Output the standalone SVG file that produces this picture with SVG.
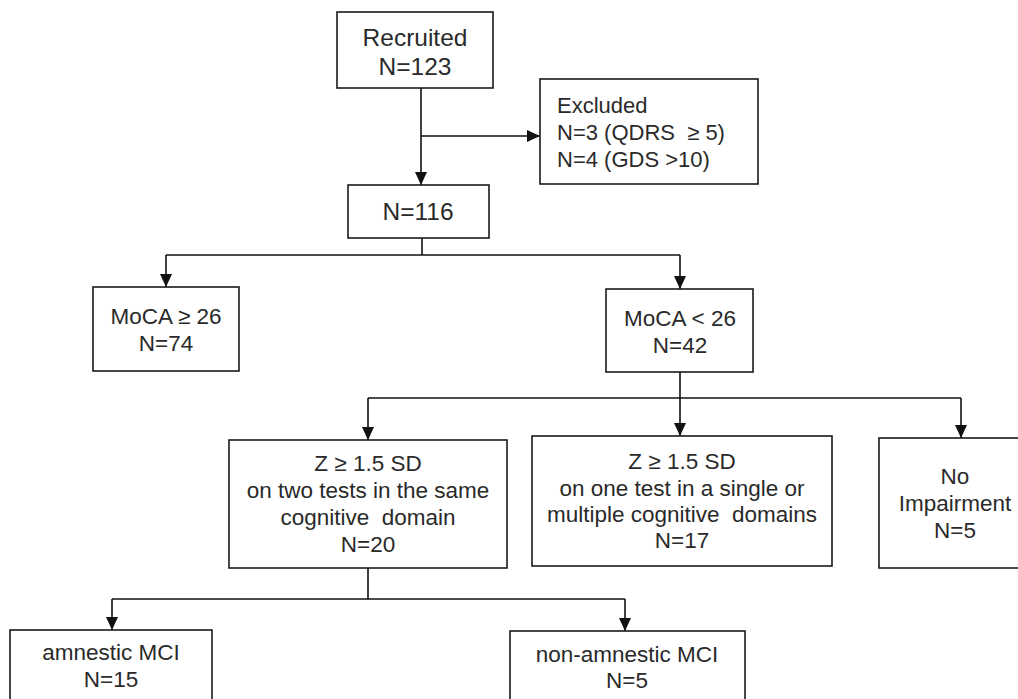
<svg xmlns="http://www.w3.org/2000/svg" width="1018" height="699" viewBox="0 0 1018 699">
<style>
.box{fill:#fff;stroke:#1a1a1a;stroke-width:1.6}
.t{font-family:"Liberation Sans",Arial,sans-serif;font-size:22.5px;fill:#2a2a2a;text-anchor:middle}
.tl{font-family:"Liberation Sans",Arial,sans-serif;font-size:22px;fill:#2a2a2a}
.big{font-size:24.5px}
.c{fill:none;stroke:#111;stroke-width:1.6}
</style>
<defs>
<marker id="ah" viewBox="0 0 13 12" refX="13" refY="6" markerWidth="13" markerHeight="12" markerUnits="userSpaceOnUse" orient="auto">
<path d="M0,0 L13,6 L0,12 z" fill="#111"/>
</marker>
</defs>
<rect width="1018" height="699" fill="#fff"/>
<g id="connectors">
<path class="c" d="M421,88 V185" marker-end="url(#ah)"/>
<path class="c" d="M421,136 H540" marker-end="url(#ah)"/>
<path class="c" d="M422,238 V255"/>
<path class="c" d="M166,255 H680"/>
<path class="c" d="M166,255 V287" marker-end="url(#ah)"/>
<path class="c" d="M680,255 V289" marker-end="url(#ah)"/>
<path class="c" d="M680,372 V436" marker-end="url(#ah)"/>
<path class="c" d="M368,398 H961"/>
<path class="c" d="M368,398 V440" marker-end="url(#ah)"/>
<path class="c" d="M961,398 V438" marker-end="url(#ah)"/>
<path class="c" d="M368,568 V599"/>
<path class="c" d="M112,599 H625"/>
<path class="c" d="M112,599 V630" marker-end="url(#ah)"/>
<path class="c" d="M625,599 V631" marker-end="url(#ah)"/>
</g>
<g id="recruited">
<rect class="box" x="337" y="12" width="156" height="76"/>
<text class="t big" x="415" y="46">Recruited</text>
<text class="t big" x="415" y="75">N=123</text>
</g>
<g id="excluded">
<rect class="box" x="540" y="79" width="218" height="105"/>
<text class="tl" x="557" y="113">Excluded</text>
<text class="tl" x="557" y="140">N=3 (QDRS&#160; ≥ 5)</text>
<text class="tl" x="557" y="167">N=4 (GDS &gt;10)</text>
</g>
<g id="n116">
<rect class="box" x="348" y="185" width="141" height="53"/>
<text class="t big" x="418" y="220">N=116</text>
</g>
<g id="moca-ge26">
<rect class="box" x="93" y="287" width="146" height="84"/>
<text class="t" x="166" y="324">MoCA ≥ 26</text>
<text class="t" x="166" y="351">N=74</text>
</g>
<g id="moca-lt26">
<rect class="box" x="606" y="289" width="147" height="83"/>
<text class="t" x="680" y="326">MoCA &lt; 26</text>
<text class="t" x="680" y="353">N=42</text>
</g>
<g id="two-tests">
<rect class="box" x="229" y="440" width="278" height="128"/>
<text class="t" x="368" y="471">Z ≥ 1.5 SD</text>
<text class="t" x="368" y="498">on two tests in the same</text>
<text class="t" x="368" y="525">cognitive&#160; domain</text>
<text class="t" x="368" y="552">N=20</text>
</g>
<g id="one-test">
<rect class="box" x="532" y="436" width="300" height="130"/>
<text class="t" x="682" y="469">Z ≥ 1.5 SD</text>
<text class="t" x="682" y="496">on one test in a single or</text>
<text class="t" x="682" y="522">multiple cognitive&#160; domains</text>
<text class="t" x="682" y="548">N=17</text>
</g>
<g id="no-impairment">
<rect class="box" x="879" y="438" width="164" height="130"/>
<text class="t" x="955" y="484">No</text>
<text class="t" x="955" y="511">Impairment</text>
<text class="t" x="955" y="538">N=5</text>
</g>
<g id="amnestic">
<rect class="box" x="10" y="630" width="202" height="80"/>
<text class="t" x="111" y="660">amnestic MCI</text>
<text class="t" x="111" y="687">N=15</text>
</g>
<g id="non-amnestic">
<rect class="box" x="510" y="631" width="235" height="80"/>
<text class="t" x="627" y="662">non-amnestic MCI</text>
<text class="t" x="627" y="688">N=5</text>
</g>
</svg>
